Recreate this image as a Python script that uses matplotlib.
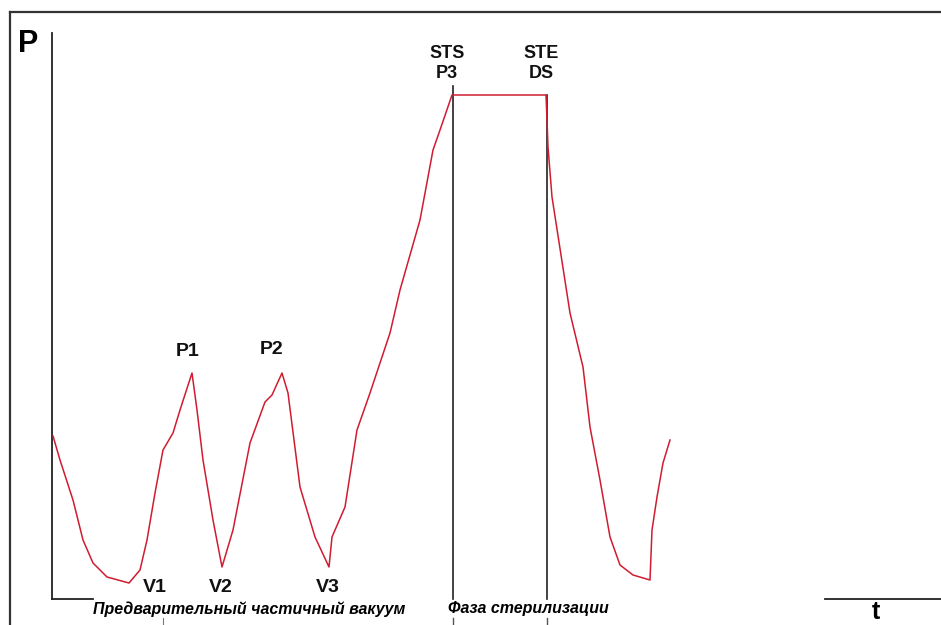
import matplotlib
matplotlib.use('Agg')
from matplotlib import pyplot as plt
from matplotlib.lines import Line2D

plt.rcParams['font.family'] = ['Liberation Sans', 'DejaVu Sans']

# pressure trace (t = time units, p = pressure units)
t = [1, 8, 21, 31, 41, 55, 77, 88, 95, 103, 111, 121, 128, 140,
     145, 151, 161, 170, 181, 198, 213, 220, 230, 236, 248, 263, 277,
     280, 293, 305, 318, 338, 348, 368, 381, 388, 400, 494, 495, 496,
     500, 518, 531, 538, 548, 558, 568, 581, 598, 600, 605, 611, 618]
p = [163, 139, 99, 59, 36, 22, 16, 29, 59, 106, 149, 166, 189, 226,
     189, 139, 79, 32, 69, 156, 197, 204, 226, 206, 112, 62, 32,
     62, 92, 169, 206, 266, 309, 379, 449, 469, 504, 504, 479, 452,
     402, 286, 232, 172, 119, 62, 34, 24, 19, 69, 102, 136, 159]

# point labels
point_names = ['V1', 'V2', 'V3', 'P1', 'P2']
point_t = [103, 169, 276, 136, 220]
point_p = [12, 12, 12, 247, 250]

# phase markers
phase_t = [401, 495]
phase_top = [513, 504]
phase_upper = ['STS', 'STE']
phase_lower = ['P3', 'DS']

fig = plt.figure(figsize=(9.41, 6.25), dpi=100)
W, H = 941.0, 625.0
ax = fig.add_axes([52 / W, 26 / H, 889 / W, 566 / H])
ax.set_xlim(0, 889)
ax.set_ylim(0, 566)
ax.axis('off')

# y axis and broken x axis
ax.plot([0, 0], [0, 566], color='#222222', lw=1.3, clip_on=False)
ax.plot([0, 41], [0, 0], color='#222222', lw=1.3, clip_on=False)
ax.plot([773, 889], [0, 0], color='#222222', lw=1.3, clip_on=False)

# phase lines
for x, top in zip(phase_t, phase_top):
    ax.plot([x, x], [0, top], color='#222222', lw=1.2, clip_on=False)
    ax.plot([x, x], [-19, -26], color='#555555', lw=1.0, clip_on=False)
ax.plot([111, 111], [-19, -26], color='#777777', lw=0.8, clip_on=False)

ax.plot(t, p, color='#d01c30', lw=1.1)

for name, x, y in zip(point_names, point_t, point_p):
    ax.text(x, y, name, ha='center', va='center', fontsize=14,
            fontweight='bold', color='#111111')

for up, low, x in zip(phase_upper, phase_lower, phase_t):
    ax.text(x - 6, 546, up, ha='center', va='center', fontsize=13,
            fontweight='bold', color='#111111')
    ax.text(x - 6, 526, low, ha='center', va='center', fontsize=13,
            fontweight='bold', color='#111111')

ax.text(41, -10, 'Предварительный частичный вакуум', ha='left', va='center',
        fontsize=11.5, fontweight='bold', fontstyle='italic', clip_on=False)
ax.text(396, -10, 'Фаза стерилизации', ha='left', va='center',
        fontsize=11.5, fontweight='bold', fontstyle='italic', clip_on=False)

fig.text(28 / W, 1 - 44 / H, 'P', ha='center', va='center', fontsize=22,
         fontweight='bold')
fig.text(876 / W, 1 - 624 / H, 't', ha='center', va='bottom', fontsize=18,
         fontweight='bold')

# outer frame
fig.add_artist(Line2D([10 / W, 1], [1 - 12 / H, 1 - 12 / H],
                      color='#333333', lw=1.6))
fig.add_artist(Line2D([10 / W, 10 / W], [0, 1 - 12 / H],
                      color='#333333', lw=1.6))

plt.savefig('out.png', dpi=100)
